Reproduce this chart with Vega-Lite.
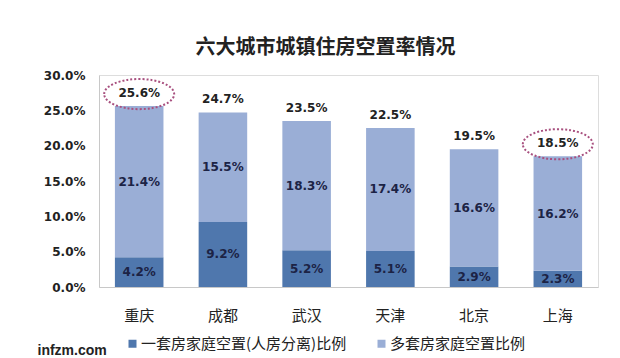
{
  "$schema": "https://vega.github.io/schema/vega-lite/v6.json",
  "width": 499,
  "height": 212,
  "autosize": {"type": "none"},
  "padding": {"left": 99, "top": 75, "right": 22, "bottom": 71},
  "background": "white",
  "title": {"text": "六大城市城镇住房空置率情况", "font": "Noto Sans CJK SC", "fontSize": 20, "fontWeight": "bold", "color": "#222222", "anchor": "middle", "dx": -23, "offset": 11},
  "config": {
    "axisY": {
      "format": ".1%", "grid": false, "ticks": false, "labelOverlap": false,
      "labelFont": "DejaVu Sans", "labelFontWeight": "bold", "labelFontSize": 12, "labelColor": "#222222",
      "domainColor": "#c8c8c8", "labelPadding": 14, "title": null
    }
  },
  "datasets": {
    "parts": [
      {"city": "重庆", "type": "一套房家庭空置(人房分离)比例", "order": 1, "value": 0.042},
      {"city": "重庆", "type": "多套房家庭空置比例", "order": 2, "value": 0.214},
      {"city": "成都", "type": "一套房家庭空置(人房分离)比例", "order": 1, "value": 0.092},
      {"city": "成都", "type": "多套房家庭空置比例", "order": 2, "value": 0.155},
      {"city": "武汉", "type": "一套房家庭空置(人房分离)比例", "order": 1, "value": 0.052},
      {"city": "武汉", "type": "多套房家庭空置比例", "order": 2, "value": 0.183},
      {"city": "天津", "type": "一套房家庭空置(人房分离)比例", "order": 1, "value": 0.051},
      {"city": "天津", "type": "多套房家庭空置比例", "order": 2, "value": 0.174},
      {"city": "北京", "type": "一套房家庭空置(人房分离)比例", "order": 1, "value": 0.029},
      {"city": "北京", "type": "多套房家庭空置比例", "order": 2, "value": 0.166},
      {"city": "上海", "type": "一套房家庭空置(人房分离)比例", "order": 1, "value": 0.023},
      {"city": "上海", "type": "多套房家庭空置比例", "order": 2, "value": 0.162}
    ],
    "totals": [
      {"city": "重庆", "total": 0.256, "highlight": true},
      {"city": "成都", "total": 0.247, "highlight": false},
      {"city": "武汉", "total": 0.235, "highlight": false},
      {"city": "天津", "total": 0.225, "highlight": false},
      {"city": "北京", "total": 0.195, "highlight": false},
      {"city": "上海", "total": 0.185, "highlight": true}
    ]
  },
  "encoding": {
    "x": {
      "field": "city", "type": "nominal",
      "sort": ["重庆", "成都", "武汉", "天津", "北京", "上海"],
      "scale": {"paddingInner": 0.42, "paddingOuter": 0.19},
      "axis": {
        "labelAngle": 0, "labelFont": "Noto Sans CJK SC", "labelFontSize": 15, "labelColor": "#222222",
        "ticks": false, "domainColor": "#c8c8c8", "labelPadding": 21,
        "title": "infzm.com", "titleFont": "Liberation Sans", "titleFontSize": 14, "titleFontWeight": "bold",
        "titleColor": "#222222", "titleAlign": "left", "titleAnchor": "start", "titleBaseline": "middle", "titleX": -62, "titleY": 63
      }
    }
  },
  "layer": [
    {
      "data": {"name": "parts"},
      "transform": [
        {"stack": "value", "groupby": ["city"], "sort": [{"field": "order", "order": "ascending"}], "as": ["v0", "v1"]}
      ],
      "mark": {"type": "bar"},
      "encoding": {
        "y": {
          "field": "v1", "type": "quantitative",
          "scale": {"domain": [0, 0.3], "nice": false},
          "axis": {"values": [0, 0.05, 0.1, 0.15, 0.2, 0.25, 0.3]}
        },
        "y2": {"field": "v0"},
        "color": {
          "field": "type", "type": "nominal",
          "sort": ["一套房家庭空置(人房分离)比例", "多套房家庭空置比例"],
          "scale": {"range": ["#4f77ad", "#9aaed6"]},
          "legend": {
            "orient": "none", "legendX": 26, "legendY": 261, "direction": "horizontal", "title": null,
            "symbolType": "square", "symbolSize": 64, "symbolStrokeWidth": 0, "labelLimit": 400, "labelOffset": 1,
            "labelFont": "Noto Sans CJK SC", "labelFontSize": 15, "labelColor": "#222222", "columnPadding": 27
          }
        }
      }
    },
    {
      "data": {"name": "parts"},
      "transform": [
        {"stack": "value", "groupby": ["city"], "sort": [{"field": "order", "order": "ascending"}], "as": ["v0", "v1"]},
        {"calculate": "(datum.v0 + datum.v1) / 2", "as": "mid"}
      ],
      "mark": {"type": "text", "font": "DejaVu Sans", "fontWeight": "bold", "fontSize": 12, "color": "#1c2345", "baseline": "middle"},
      "encoding": {
        "y": {"field": "mid", "type": "quantitative", "axis": {"values": [0, 0.05, 0.1, 0.15, 0.2, 0.25, 0.3]}},
        "text": {"field": "value", "type": "quantitative", "format": ".1%"}
      }
    },
    {
      "data": {"name": "totals"},
      "mark": {"type": "text", "font": "DejaVu Sans", "fontWeight": "bold", "fontSize": 12, "color": "#222222", "baseline": "middle", "dy": -13},
      "encoding": {
        "y": {"field": "total", "type": "quantitative", "axis": {"values": [0, 0.05, 0.1, 0.15, 0.2, 0.25, 0.3]}},
        "text": {"field": "total", "type": "quantitative", "format": ".1%"}
      }
    },
    {
      "data": {"name": "totals"},
      "transform": [{"filter": "datum.highlight"}],
      "mark": {"type": "point", "shape": "M-1,0A1,0.43,0,1,1,1,0A1,0.43,0,1,1,-1,0Z", "size": 4900, "filled": false, "stroke": "#a8507f", "strokeWidth": 2, "strokeDash": [2, 2], "yOffset": -12, "opacity": 1},
      "encoding": {
        "y": {"field": "total", "type": "quantitative", "axis": {"values": [0, 0.05, 0.1, 0.15, 0.2, 0.25, 0.3]}}
      }
    }
  ]
}
